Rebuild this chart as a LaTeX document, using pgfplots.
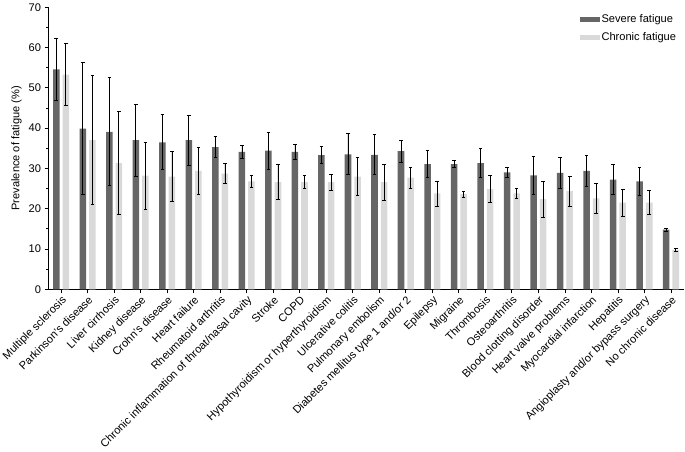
\documentclass[border=0pt]{standalone}
\usepackage{fontspec}
\setmainfont{Liberation Sans}
\usepackage{pgfplots}
\usepackage{pgfplotstable}
\pgfplotsset{compat=1.18}

\definecolor{sevgray}{HTML}{666666}
\definecolor{chrgray}{HTML}{D9D9D9}

% x, severe, severe err, chronic, chronic err
\pgfplotstableread{
x sev sevE chr chrE
0  54.6 7.7  53.3 7.7
1  39.9 16.3 37.0 16.0
2  39.1 13.4 31.3 12.8
3  37.0 9.0  28.2 8.3
4  36.5 6.8  28.0 6.3
5  37.0 6.2  29.4 5.9
6  35.3 2.6  28.7 2.5
7  34.1 1.7  26.8 1.5
8  34.4 4.6  26.6 4.3
9  34.1 1.8  26.6 1.6
10 33.3 2.1  26.6 2.0
11 33.5 5.1  28.0 4.8
12 33.4 5.0  26.6 4.5
13 34.3 2.7  27.7 2.6
14 31.1 3.4  23.8 3.1
15 31.1 0.8  23.6 0.7
16 31.3 3.6  24.9 3.3
17 29.0 1.3  23.8 1.2
18 28.3 4.8  22.4 4.5
19 28.9 3.9  24.4 3.7
20 29.4 3.9  22.6 3.7
21 27.2 3.7  21.5 3.3
22 26.8 3.4  21.5 3.0
23 14.8 0.3  9.8  0.3
}\fat

\begin{document}
\begin{tikzpicture}
\begin{axis}[
  scale only axis,
  width=629bp, height=279bp,
  ybar=3pt, bar width=6.5pt,
  xmin=-0.47, xmax=23.51,
  ymin=0, ymax=70,
  axis lines=left,
  axis line style={black, line width=1pt, -},
  every tick/.style={black, line width=0.8pt},
  tick align=outside,
  major tick length=4pt,
  minor tick length=2.5pt,
  ytick={0,10,...,70},
  minor ytick={5,15,...,65},
  xtick={0,...,23},
  xticklabels={Multiple sclerosis, Parkinson’s disease, Liver cirrhosis, Kidney disease, Crohn’s disease, Heart failure, Rheumatoid arthritis, Chronic inflammation of throat/nasal cavity, Stroke, COPD, Hypothyroidism or hyperthyroidism, Ulcerative colitis, Pulmonary embolism, Diabetes mellitus type 1 and/or 2, Epilepsy, Migraine, Thrombosis, Osteoarthritis, Blood clotting disorder, Heart valve problems, Myocardial infarction, Hepatitis, Angioplasty and/or bypass surgery, No chronic disease},
  xticklabel style={rotate=45, anchor=north east, inner sep=1pt},
  tick label style={font=\fontsize{11}{13}\selectfont},
  /pgf/number format/assume math mode=true,
  ylabel={Prevalence of fatigue (\%)},
  ylabel style={font=\fontsize{11}{13}\selectfont},
  error bars/error bar style={black, line width=0.8pt},
  error bars/error mark options={black, rotate=90, mark size=1.8pt, line width=0.8pt},
  legend style={draw=none, fill=none, at={(0.995,0.99)}, anchor=north east,
    font=\fontsize{11}{13}\selectfont, row sep=5pt},
  legend cell align=left,
  legend image code/.code={\fill[#1] (0pt,-2.5pt) rectangle (19pt,2.5pt);},
]
\addplot[fill=sevgray, draw=none, error bars/.cd, y dir=both, y explicit]
  table[x=x, y=sev, y error=sevE] {\fat};
\addplot[fill=chrgray, draw=none, error bars/.cd, y dir=both, y explicit]
  table[x=x, y=chr, y error=chrE] {\fat};
\legend{Severe fatigue, Chronic fatigue}
\end{axis}
\end{tikzpicture}
\end{document}
